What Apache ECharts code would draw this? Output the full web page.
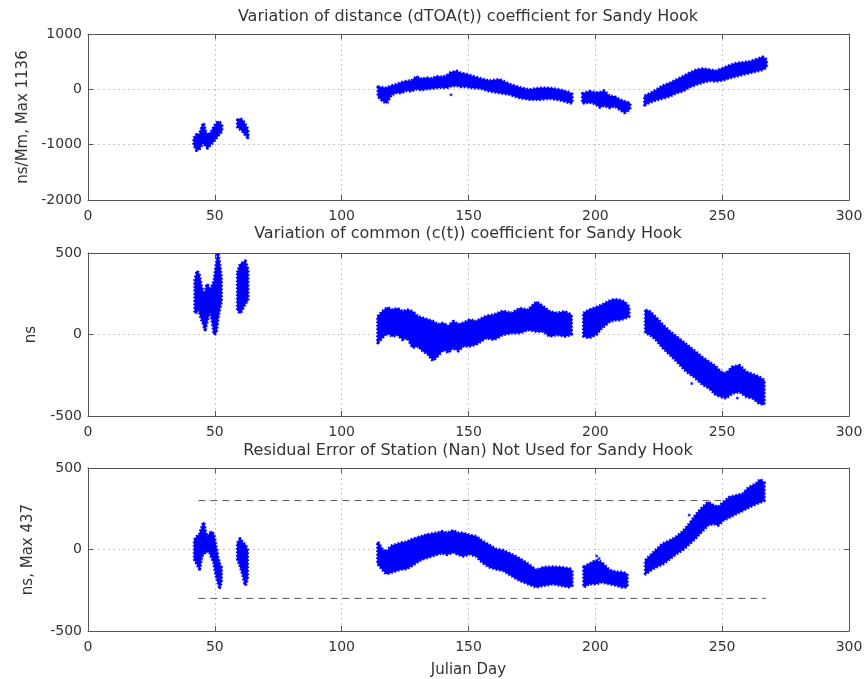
<!DOCTYPE html>
<html><head><meta charset="utf-8">
<script src="https://cdn.jsdelivr.net/npm/echarts@6/dist/echarts.min.js"></script>
<style>html,body{margin:0;padding:0;background:#fff}#c{width:867px;height:679px}</style>
</head><body><div id="c"></div><script>
// ---- Data: [julian day, lower edge, upper edge] of the dense point cloud ----
const distanceSeg1 = [[41.8,-1000,-880],[42.8,-1100,-820],[43.8,-1090,-840],[44.8,-1000,-700],[45.5,-960,-610],[46.3,-1020,-760],[47.2,-1060,-830],[48.2,-1000,-800],[49.2,-960,-720],[50.2,-900,-640],[51.2,-840,-580],[52.0,-800,-600],[52.7,-760,-660]];
const distanceSeg2 = [[59.0,-680,-560],[60.0,-720,-530],[61.0,-760,-560],[62.0,-820,-640],[63.0,-870,-730]];
const distanceSeg3 = [[114.4,-130,40],[116,-200,30],[117.7,-250,20],[119.5,-100,60],[121.6,-60,85],[123.5,-60,120],[125.6,-20,145],[127.5,-30,150],[129.5,10,230],[131.5,-10,180],[133.4,10,206],[135.5,20,190],[137.4,30,230],[139.5,40,220],[141.3,30,240],[143,60,300],[145.3,70,326],[147,50,290],[149.2,50,270],[151.5,30,235],[154.4,25,195],[158.3,-30,150],[162.3,-60,175],[166.2,-90,90],[170.2,-150,30],[174.1,-180,-10],[178.1,-180,20],[182,-160,20],[186,-190,-10],[189.9,-240,-60],[190.8,-250,-90]];
const distanceSeg4 = [[195.0,-250,-80],[197.8,-230,-40],[200,-260,-60],[201.8,-320,-60],[203.5,-290,-30],[205.7,-330,-130],[207.5,-300,-130],[209.6,-360,-190],[211.5,-420,-220],[213.6,-360,-250]];
const distanceSeg5 = [[219.5,-280,-120],[221.5,-230,-80],[224.1,-190,-10],[226.5,-160,60],[229.4,-120,110],[232,-60,170],[234.6,-30,230],[237,40,290],[239.9,90,350],[242.5,130,370],[245.1,160,350],[247.5,150,330],[250.4,170,380],[253,210,430],[255.6,240,470],[258,270,480],[260.9,300,500],[263.5,330,540],[266.1,360,580],[267.4,400,540]];
const distanceOutliers = [[143.1,-96]];

const commonSeg1 = [[42.2,130,330],[43.0,140,390],[43.8,150,370],[44.6,100,300],[45.4,70,260],[46.2,30,250],[46.9,80,310],[47.6,120,290],[48.3,150,260],[49.0,80,300],[49.8,0,330],[50.5,10,420],[51.2,100,500],[51.9,160,430],[52.5,200,350]];
const commonSeg2 = [[59.0,150,380],[60.0,130,430],[61.0,160,440],[62.0,190,450],[63.0,210,400]];
const commonSeg3 = [[114.3,-50,110],[116,-20,140],[118,10,165],[120,-10,150],[122,0,160],[124,-30,140],[126,-20,150],[128,-80,140],[130,-70,110],[132,-100,100],[134,-120,90],[136,-160,80],[138,-130,60],[140,-90,70],[142,-110,50],[144,-80,80],[146,-100,60],[148,-70,70],[150.5,-70,90],[153,-60,80],[157,-20,112],[160,-30,120],[163.6,0,143],[167,10,130],[170.2,10,160],[173.5,30,150],[176.8,20,200],[179.5,20,170],[182,-10,140],[185,0,130],[188,-10,140],[190.5,0,120]];
const commonSeg4 = [[195.4,-10,130],[197.5,-20,150],[200.3,0,165],[202.5,40,180],[205.6,80,205],[207.5,90,215],[209.5,90,210],[211.5,100,200],[213.2,110,170]];
const commonSeg5 = [[219.8,10,150],[221.5,0,140],[223.9,-30,105],[226.5,-80,60],[229.2,-120,20],[232.5,-170,-20],[235.8,-225,-60],[239,-260,-100],[242.3,-306,-143],[245,-330,-170],[247.6,-370,-200],[249.5,-380,-230],[251.5,-390,-240],[254,-360,-200],[256.8,-350,-190],[259.5,-380,-230],[262,-390,-245],[264.5,-420,-260],[266.5,-430,-280]];
const commonOutliers = [[238,-300],[256,-390]];

const residualSeg1 = [[42.0,-60,60],[43.0,-90,80],[44.0,-120,95],[44.8,-40,130],[45.6,-30,167],[46.4,-10,100],[47.2,-10,70],[48.0,-20,100],[48.8,-50,110],[49.6,-80,90],[50.4,-150,20],[51.2,-200,-50],[51.9,-231,-90],[52.5,-200,-110]];
const residualSeg2 = [[59.0,-60,40],[60.0,-100,65],[61.0,-150,40],[62.0,-220,30],[62.8,-180,0]];
const residualSeg3 = [[114.3,-90,45],[116,-120,0],[117.6,-149,-16],[119.5,-140,20],[121.5,-130,30],[123.5,-120,40],[125.5,-118,45],[127.5,-100,60],[129.5,-80,70],[131.5,-60,80],[133.5,-50,90],[135.5,-40,95],[137.5,-30,100],[139.5,-20,110],[141.5,-30,100],[143.9,-16,116],[146,-30,100],[148,-40,100],[150.5,-27,86],[153,-40,80],[155.5,-80,50],[158.4,-108,24],[161,-120,0],[163.6,-128,-6],[167,-160,-30],[170.2,-190,-57],[173.5,-210,-90],[176.8,-230,-128],[179.5,-220,-110],[183.4,-210,-108],[186.5,-220,-110],[189.9,-230,-118],[190.8,-220,-130]];
const residualSeg4 = [[195.5,-230,-108],[197.5,-210,-90],[200.3,-210,-67],[202.5,-200,-80],[205.6,-210,-128],[208.5,-220,-140],[210.5,-230,-140],[212.5,-230,-150]];
const residualSeg5 = [[219.8,-149,-67],[221.5,-130,-40],[223.5,-110,-10],[226.6,-88,35],[229,-60,50],[231.8,-27,75],[234.5,0,110],[237.1,35,157],[239.5,70,210],[242.3,116,259],[244.5,150,290],[246.5,160,270],[248.5,150,260],[250.5,180,290],[252.8,198,320],[255.5,220,330],[258.1,239,341],[260.5,260,380],[263.3,280,402],[265,290,430],[266.5,300,410]];
const residualOutliers = [[237,212],[200.5,-40],[201.5,-55]];

const thresholdDays = [43.5, 267.3];
const thresholdLevels = [300, -300];

const titles = [
  'Variation of distance (dTOA(t)) coefficient for Sandy Hook',
  'Variation of common (c(t)) coefficient for Sandy Hook',
  'Residual Error of Station (Nan) Not Used for Sandy Hook'
];
const yNames = ['ns/Mm, Max 1136', 'ns', 'ns, Max 437'];
const xName = 'Julian Day';

// ---- Layout / style ----
const FONT = 'DejaVu Sans';
const AXIS = '#555';
const BLUE = '#0000ff';
const grids = [
  {left: 88, top: 34, width: 761, height: 166},
  {left: 88, top: 253, width: 761, height: 163},
  {left: 88, top: 468, width: 761, height: 164}
];
const yRanges = [[-2000, 1000, 1000], [-500, 500, 500], [-500, 500, 500]];
const nameGaps = [53, 49, 52];
const titleTops = [9, 226, 443];

const chart = echarts.init(document.getElementById('c'), null, {renderer: 'canvas'});

const xAxis = [], yAxis = [], series = [];
grids.forEach((g, i) => {
  xAxis.push({
    type: 'value', gridIndex: i, position: 'bottom', min: 0, max: 300, interval: 50,
    axisLine: {show: true, onZero: false, lineStyle: {color: AXIS, width: 1}},
    axisTick: {show: true, inside: true, length: 5, lineStyle: {color: AXIS}},
    axisLabel: {margin: 9, color: '#333', fontSize: 14, fontFamily: FONT, formatter: v => String(v)},
    splitLine: {show: true, lineStyle: {color: '#c8c8c8', type: [2, 3], width: 1}},
    name: i === 2 ? xName : '', nameLocation: 'middle', nameGap: 32,
    nameTextStyle: {color: '#333', fontSize: 15, fontFamily: FONT}
  });
  xAxis.push({
    type: 'value', gridIndex: i, position: 'top', min: 0, max: 300, interval: 50,
    axisLine: {show: true, onZero: false, lineStyle: {color: AXIS, width: 1}},
    axisTick: {show: true, inside: true, length: 5, lineStyle: {color: AXIS}},
    axisLabel: {show: false}, splitLine: {show: false}
  });
  const r = yRanges[i];
  yAxis.push({
    type: 'value', gridIndex: i, position: 'left', min: r[0], max: r[1], interval: r[2],
    axisLine: {show: true, onZero: false, lineStyle: {color: AXIS, width: 1}},
    axisTick: {show: true, inside: true, length: 5, lineStyle: {color: AXIS}},
    axisLabel: {margin: 6, color: '#333', fontSize: 14, fontFamily: FONT, formatter: v => String(v)},
    splitLine: {show: true, lineStyle: {color: '#c8c8c8', type: [2, 3], width: 1}},
    name: yNames[i], nameLocation: 'middle', nameGap: nameGaps[i],
    nameTextStyle: {color: '#333', fontSize: 15, fontFamily: FONT}
  });
  yAxis.push({
    type: 'value', gridIndex: i, position: 'right', min: r[0], max: r[1], interval: r[2],
    axisLine: {show: true, onZero: false, lineStyle: {color: AXIS, width: 1}},
    axisTick: {show: true, inside: true, length: 5, lineStyle: {color: AXIS}},
    axisLabel: {show: false}, splitLine: {show: false}
  });
});

function band(rows, gi) {
  return {
    type: 'custom', xAxisIndex: gi * 2, yAxisIndex: gi * 2, clip: true, silent: true,
    data: rows,
    renderItem: function (params, api) {
      if (params.dataIndex !== 0) return null;
      const upper = rows.map(r => api.coord([r[0], r[2]]));
      const lower = rows.map(r => api.coord([r[0], r[1]])).reverse();
      const pts = upper.concat(lower);
      return {
        type: 'group',
        children: [
          {type: 'polygon', shape: {points: pts},
           style: {fill: BLUE, stroke: BLUE, lineWidth: 1, lineJoin: 'round',
                   shadowBlur: 2, shadowColor: 'rgba(0,0,255,0.5)'}},
          {type: 'polygon', shape: {points: pts},
           style: {fill: 'none', stroke: BLUE, lineWidth: 3.5, lineDash: [1.5, 2], lineJoin: 'round'}}
        ]
      };
    }
  };
}
function dots(pts, gi) {
  return {type: 'scatter', xAxisIndex: gi * 2, yAxisIndex: gi * 2, data: pts,
    symbolSize: 3, itemStyle: {color: BLUE}, silent: true};
}

[distanceSeg1, distanceSeg2, distanceSeg3, distanceSeg4, distanceSeg5].forEach(s => series.push(band(s, 0)));
series.push(dots(distanceOutliers, 0));
[commonSeg1, commonSeg2, commonSeg3, commonSeg4, commonSeg5].forEach(s => series.push(band(s, 1)));
series.push(dots(commonOutliers, 1));
[residualSeg1, residualSeg2, residualSeg3, residualSeg4, residualSeg5].forEach(s => series.push(band(s, 2)));
series.push(dots(residualOutliers, 2));
thresholdLevels.forEach(lv => {
  series.push({
    type: 'line', xAxisIndex: 4, yAxisIndex: 4, silent: true, symbol: 'none',
    data: thresholdDays.map(d => [d, lv]),
    lineStyle: {color: '#555', width: 1, type: [7, 5]}, z: 1
  });
});

chart.setOption({
  animation: false,
  backgroundColor: '#fff',
  title: titles.map((t, i) => ({
    text: t, left: 468, top: titleTops[i], textAlign: 'center', padding: 0,
    textStyle: {fontFamily: FONT, fontSize: 16, fontWeight: 'normal', color: '#333'}
  })),
  grid: grids.map(g => Object.assign({containLabel: false}, g)),
  xAxis: xAxis,
  yAxis: yAxis,
  series: series
});
</script></body></html>
